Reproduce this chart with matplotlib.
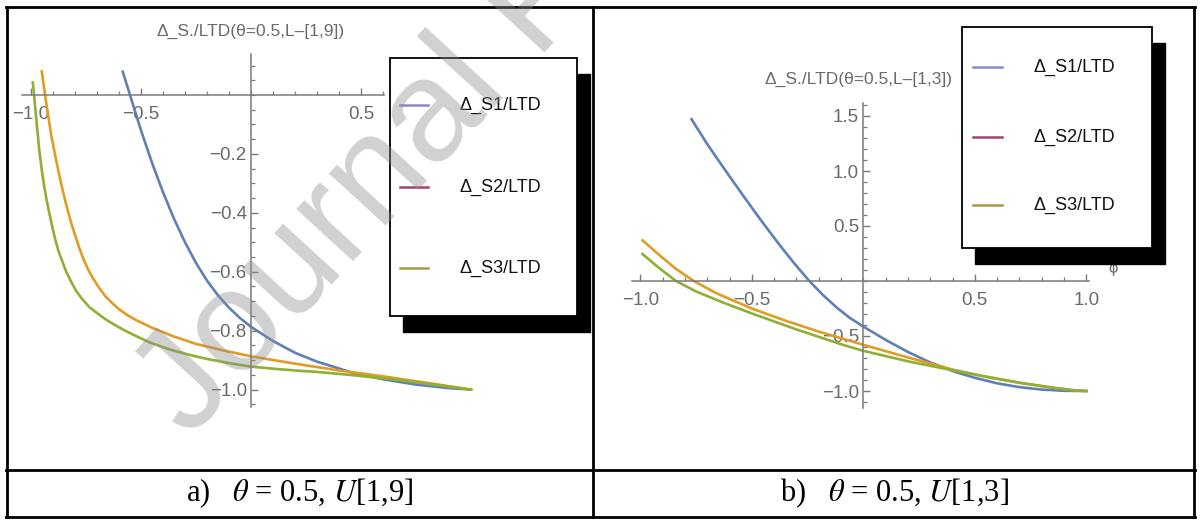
import numpy as np
import matplotlib.pyplot as plt
from matplotlib.lines import Line2D
from matplotlib.patches import Rectangle
from matplotlib.ticker import FixedLocator

plt.rcParams['font.family'] = ['Liberation Sans', 'DejaVu Sans']
plt.rcParams['mathtext.fontset'] = 'stix'

W, H = 1201, 520

# ---- data: panel a) theta=0.5, U[1,9] ----
a_s1_x = [-0.583, -0.55, -0.50, -0.45, -0.40, -0.35, -0.30, -0.25, -0.20, -0.15, -0.10, -0.05, 0.0,
          0.1, 0.2, 0.3, 0.45, 0.6, 0.75, 0.9, 1.0]
a_s1_y = [0.079, 0.0, -0.12, -0.23, -0.33, -0.42, -0.50, -0.57, -0.63, -0.68, -0.722, -0.757, -0.787,
          -0.835, -0.875, -0.905, -0.94, -0.965, -0.983, -0.995, -1.0]
a_s2_x = [-0.951, -0.936, -0.922, -0.907, -0.89, -0.875, -0.86, -0.845, -0.83, -0.815, -0.80, -0.78,
          -0.76, -0.74, -0.72, -0.69, -0.66, -0.63, -0.60, -0.56, -0.52, -0.45, -0.35, -0.25, -0.12,
          0.0, 0.2, 0.4, 0.6, 0.8, 1.0]
a_s2_y = [0.08, 0.0, -0.07, -0.14, -0.205, -0.26, -0.31, -0.357, -0.4, -0.44, -0.475, -0.52,
          -0.56, -0.593, -0.62, -0.655, -0.685, -0.707, -0.727, -0.748, -0.765, -0.79, -0.82, -0.845, -0.868,
          -0.887, -0.912, -0.935, -0.955, -0.977, -1.0]
a_s3_x = [-0.992, -0.986, -0.975, -0.962, -0.95, -0.94, -0.928, -0.917, -0.904, -0.89, -0.875, -0.86,
          -0.84, -0.82, -0.795, -0.77, -0.735, -0.70, -0.66, -0.62, -0.58, -0.54, -0.50, -0.46, -0.40,
          -0.35, -0.28, -0.2, -0.1, 0.0, 0.1, 0.2, 0.3, 0.45, 0.6, 0.7, 0.85, 1.0]
a_s3_y = [0.043, 0.0, -0.09, -0.19, -0.26, -0.31, -0.36, -0.4, -0.445, -0.49, -0.53, -0.56,
          -0.60, -0.63, -0.665, -0.69, -0.72, -0.74, -0.762, -0.78, -0.797, -0.812, -0.826, -0.84, -0.856,
          -0.868, -0.882, -0.896, -0.91, -0.922, -0.929, -0.935, -0.94, -0.95, -0.962, -0.97, -0.985, -1.0]

# ---- data: panel b) theta=0.5, U[1,3] ----
b_s1_x = [-0.77, -0.70, -0.62, -0.54, -0.46, -0.38, -0.31, -0.242, -0.18, -0.12, -0.06, 0.0,
          0.1, 0.2, 0.3, 0.41, 0.5, 0.6, 0.7, 0.8, 0.9, 1.0]
b_s1_y = [1.47, 1.245, 1.01, 0.78, 0.555, 0.34, 0.161, 0.0, -0.129, -0.24, -0.336, -0.414,
          -0.535, -0.645, -0.74, -0.825, -0.88, -0.93, -0.965, -0.987, -0.998, -1.0]
b_s2_x = [-0.99, -0.92, -0.84, -0.76, -0.66, -0.5, -0.35, -0.2, 0.0, 0.2, 0.41, 0.55, 0.7, 0.85, 0.95, 1.0]
b_s2_y = [0.37, 0.245, 0.11, 0.0, -0.11, -0.25, -0.36, -0.46, -0.58, -0.695, -0.81, -0.87, -0.925,
          -0.97, -0.995, -1.0]
b_s3_x = [-0.99, -0.92, -0.84, -0.75, -0.63, -0.5, -0.3, -0.1, 0.0, 0.2, 0.41, 0.55, 0.7, 0.85, 0.95, 1.0]
b_s3_y = [0.245, 0.125, 0.0, -0.095, -0.195, -0.295, -0.44, -0.575, -0.635, -0.73, -0.815, -0.87,
          -0.925, -0.97, -0.995, -1.0]

series_labels = ['\u0394_S1/LTD', '\u0394_S2/LTD', '\u0394_S3/LTD']
line_colors = ['#5e81b5', '#e19c24', '#8fb032']
legend_colors = ['#8a8ac8', '#a3446f', '#a89a48']
titles = ['\u0394_S./LTD(\u03b8=0.5,L\u2013[1,9])', '\u0394_S./LTD(\u03b8=0.5,L\u2013[1,3])']
captions = [r'a)   $\theta$ = 0.5, $U$[1,9]', r'b)   $\theta$ = 0.5, $U$[1,3]']

GREY = '#7a7a7a'
LBL = '#6a6a6a'


def px_axes(fig, x0, y0, x1, y1):
    # pixel box (top-left origin) -> figure axes
    return fig.add_axes([x0 / W, 1 - y1 / H, (x1 - x0) / W, (y1 - y0) / H])


def style_axes(ax, xlim, ylim, xb, yb, xmaj, xmin, ymaj, ymin):
    ax.set_xlim(*xlim)
    ax.set_ylim(*ylim)
    ax.patch.set_alpha(0)
    for s in ['top', 'right']:
        ax.spines[s].set_visible(False)
    ax.spines['left'].set_position(('data', 0))
    ax.spines['bottom'].set_position(('data', 0))
    ax.spines['bottom'].set_bounds(*xb)
    ax.spines['left'].set_bounds(*yb)
    for s in ['left', 'bottom']:
        ax.spines[s].set_color(GREY)
        ax.spines[s].set_linewidth(1.1)
    ax.xaxis.set_major_locator(FixedLocator(xmaj))
    ax.xaxis.set_minor_locator(FixedLocator(xmin))
    ax.yaxis.set_major_locator(FixedLocator(ymaj))
    ax.yaxis.set_minor_locator(FixedLocator(ymin))
    ax.xaxis.set_major_formatter(lambda v, p: f'{v:.1f}'.replace('-', '\u2212'))
    ax.yaxis.set_major_formatter(lambda v, p: f'{v:.1f}'.replace('-', '\u2212'))
    ax.tick_params(which='both', direction='in', color=GREY, labelcolor=LBL, labelsize=13.5)
    ax.tick_params(which='major', length=5, width=1.0)
    ax.tick_params(axis='x', which='major', pad=8)
    ax.tick_params(axis='y', which='major', pad=3)
    ax.tick_params(which='minor', length=3, width=0.9)


fig = plt.figure(figsize=(W / 100, H / 100), dpi=100)

# panel a: zero at (251, 95), 220 px / unit in x, 294.6 px / unit in y
axa = px_axes(fig, 251 - 1.1 * 220, 95 - 0.3 * 294.6, 251 + 1.1 * 220, 95 + 1.25 * 294.6)
style_axes(axa, (-1.1, 1.1), (-1.25, 0.3), (-1.04, 0.605), (-1.06, 0.14),
           [-1.0, -0.5, 0.5], [v for v in np.round(np.arange(-1.0, 0.61, 0.1), 2) if v not in (-1.0, -0.5, 0.5)],
           [-1.0, -0.8, -0.6, -0.4, -0.2],
           [v for v in np.round(np.arange(-1.05, 0.11, 0.05), 2) if round(v * 10, 6) % 2 != 0 or v > -0.01])
for xs, ys, c in zip([a_s1_x, a_s2_x, a_s3_x], [a_s1_y, a_s2_y, a_s3_y], line_colors):
    axa.plot(xs, ys, color=c, lw=1.9, solid_joinstyle='round')
axa.text(0, 0.217, titles[0], ha='center', va='center', color=LBL, fontsize=12.5)

# panel b: zero at (863.3, 281), 223 px / unit in x, 110 px / unit in y
axb = px_axes(fig, 863.3 - 1.2 * 223, 281 - 2.4 * 110, 863.3 + 1.2 * 223, 281 + 1.7 * 110)
style_axes(axb, (-1.2, 1.2), (-1.7, 2.4), (-1.035, 1.01), (-1.15, 1.62),
           [-1.0, -0.5, 0.5, 1.0], list(np.round(np.arange(-1.0, 1.01, 0.1), 2)),
           [-1.0, -0.5, 0.5, 1.0, 1.5], list(np.round(np.arange(-1.1, 1.61, 0.1), 2)))
for xs, ys, c in zip([b_s1_x, b_s2_x, b_s3_x], [b_s1_y, b_s2_y, b_s3_y], line_colors):
    axb.plot(xs, ys, color=c, lw=1.9, solid_joinstyle='round')
axb.text(-0.02, 1.83, titles[1], ha='center', va='center', color=LBL, fontsize=12.5)
axb.text(1.12, 0.11, '\u03d5', ha='center', va='center', color=LBL, fontsize=12)

# overlay in pixel coordinates: table, legends, captions, watermark
ov = fig.add_axes([0, 0, 1, 1])
ov.set_xlim(0, W)
ov.set_ylim(H, 0)
ov.axis('off')

# table grid
for (x0, y0, x1, y1) in [(6, 7, 1195, 7), (6, 517, 1195, 517), (7, 7, 7, 517),
                         (1194, 7, 1194, 517), (593, 7, 593, 517), (6, 470, 1195, 470)]:
    ov.add_line(Line2D([x0, x1], [y0, y1], color='black', lw=2, solid_capstyle='projecting'))

# legends with black drop shadow
for (bx, by, bw, bh, entry_y, lx0, lx1, tx) in [
        (390, 58, 187, 258, [105, 187, 268], 400, 428, 460),
        (962, 27, 190, 221, [67, 137, 205], 973, 1002, 1033)]:
    ov.add_patch(Rectangle((bx + 13, by + 16), bw, bh, facecolor='black', edgecolor='black', zorder=2))
    ov.add_patch(Rectangle((bx, by), bw, bh, facecolor='white', edgecolor='black', lw=1.3, zorder=3))
    for ey, lab, lc in zip(entry_y, series_labels, legend_colors):
        ov.add_line(Line2D([lx0, lx1], [ey, ey], color=lc, lw=1.8, zorder=4))
        ov.text(tx, ey, lab, ha='left', va='center', fontsize=13, color='#111111', zorder=4)

# captions
for cx, cap in zip([300, 894], captions):
    ov.text(cx, 493, cap, ha='center', va='center', fontsize=22,
            family=['Liberation Serif', 'DejaVu Serif'], color='black')

# watermark
ov.text(190, 440, 'Journal Pre-proof', rotation=47.5, rotation_mode='anchor',
        ha='left', va='baseline', fontsize=104, color='#8c8c8c', alpha=0.4, zorder=10)

fig.savefig('out.png', dpi=100)
